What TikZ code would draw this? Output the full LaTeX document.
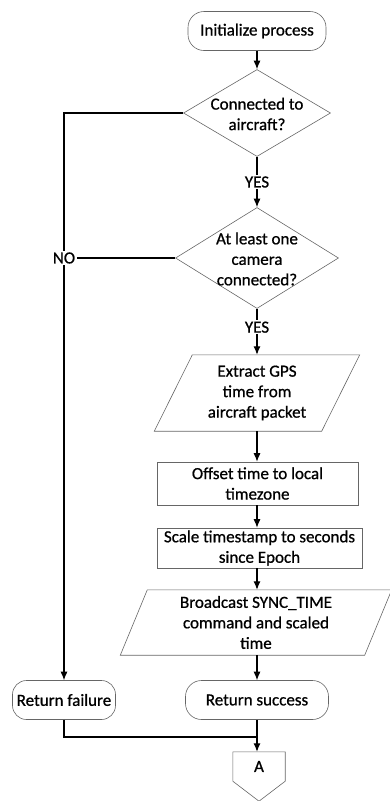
\documentclass[tikz,border=0pt]{standalone}
\usepackage{fontspec}
\setmainfont{Carlito}[FakeBold=0.8]
\usetikzlibrary{shapes.geometric,arrows.meta}

\tikzset{
  outline/.style={draw=black!60, line width=0.6pt},
  txt/.style={align=center, inner sep=0pt, font=\fontsize{17}{20.5}\selectfont},
  terminal/.style={txt, outline, rounded corners=16pt, minimum height=39pt},
  process/.style={txt, outline, minimum height=#1},
  decision/.style={outline, shape=diamond, inner sep=0pt},
  iobox/.style={txt},
  flow/.style={line width=1.1pt, -{Latex[length=8.5pt,width=7pt]}},
  link/.style={line width=1.1pt},
  answer/.style={txt, fill=white, inner sep=1.5pt}
}

\begin{document}
\begin{tikzpicture}[x=1pt,y=-1pt]
  \useasboundingbox (0,0) rectangle (390,801);

  % start
  \node[terminal, minimum width=138pt] (init) at (257,31) {Initialize process};

  % first decision
  \node[decision, minimum width=147pt, minimum height=87pt] (d1) at (257,113) {};
  \node[txt] (d1text) at (257,114) {Connected to\\aircraft?};

  % second decision
  \node[decision, minimum width=163pt, minimum height=101pt] (d2) at (257,258) {};
  \node[txt] (d2text) at (257,259) {At least one\\camera\\connected?};

  % read GPS time (input/output)
  \node[iobox, minimum width=167pt, minimum height=76pt] (gps) at (257,393) {Extract GPS\\time from\\aircraft packet};
  \draw[outline] ([xshift=-19pt]gps.south west) -- ([xshift=19pt]gps.north west)
        -- ([xshift=19pt]gps.north east) -- ([xshift=-19pt]gps.south east) -- cycle;

  % time conversion steps
  \node[process=43pt, minimum width=201pt] (offset) at (257.5,483.5) {Offset time to local\\timezone};
  \node[process=40pt, minimum width=205pt] (scale) at (259.5,548) {Scale timestamp to seconds\\since Epoch};

  % broadcast (input/output)
  \node[iobox, minimum width=244pt, minimum height=65pt] (bcast) at (256,622.5) {Broadcast SYNC\_TIME\\command and scaled\\time};
  \draw[outline] ([xshift=-13.5pt]bcast.south west) -- ([xshift=13.5pt]bcast.north west)
        -- ([xshift=13.5pt]bcast.north east) -- ([xshift=-13.5pt]bcast.south east) -- cycle;

  % results
  \node[terminal, minimum width=143pt] (succ) at (257,700) {Return success};
  \node[terminal, minimum width=103pt, rounded corners=14pt] (fail) at (64,700) {Return failure};

  % off-page connector
  \node[txt, minimum width=52pt, minimum height=29pt] (A) at (259,766.5) {A};
  \draw[outline] (A.north west) -- (A.north east) -- (A.south east)
        -- ([yshift=-20pt]A.south) -- (A.south west) -- cycle;

  % connectors along the main column
  \draw[flow] (init.south) -- (d1.north);
  \draw[flow] (d1.south) -- node[answer] (yes1) {YES} (d2.north);
  \draw[flow] (d2.south) -- node[answer, pos=0.4] (yes2) {YES} (d2.south |- gps.north);
  \draw[flow] (d2.south |- gps.south) -- (d2.south |- offset.north);
  \draw[flow] (d2.south |- offset.south) -- (d2.south |- scale.north);
  \draw[flow] (d2.south |- scale.south) -- (d2.south |- bcast.north);
  \draw[flow] (d2.south |- bcast.south) -- (succ.north);

  % failure branch
  \draw[flow] (d1.west) -| (fail.north);
  \node[answer] (no) at (64,258) {NO};
  \draw[link] (d2.west) -- (no.east);

  % merge into the connector
  \coordinate (join) at (257,737);
  \draw[link] (fail.south) |- (join);
  \draw[link] (succ.south) -- (join);
  \draw[flow] (join) -- (join |- A.north);
\end{tikzpicture}
\end{document}
